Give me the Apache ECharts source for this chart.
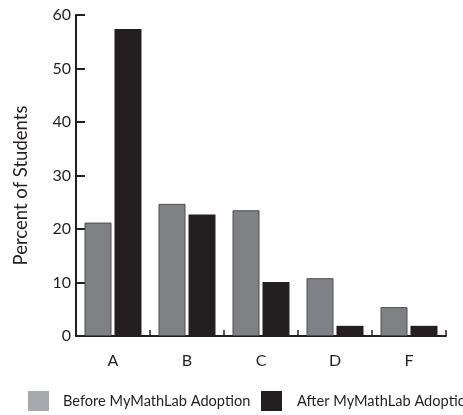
<!DOCTYPE html>
<html>
<head>
<meta charset="utf-8">
<script src="https://cdn.jsdelivr.net/npm/echarts@6/dist/echarts.min.js"></script>
<style>
html,body{margin:0;padding:0;background:#fff;}
#c{width:463px;height:415px;}
</style>
</head>
<body>
<div id="c"></div>
<script>
const categories = ['A', 'B', 'C', 'D', 'F'];
const beforeValues = [21.2, 24.7, 23.5, 10.8, 5.4];
const afterValues = [57.4, 22.7, 10.1, 1.9, 1.9];
const yTicks = [0, 10, 20, 30, 40, 50, 60];
const seriesNames = ['Before MyMathLab Adoption', 'After MyMathLab Adoption'];

const FONT = 'Lato';
const INK = '#231f20';

const chart = echarts.init(document.getElementById('c'), null, {renderer: 'canvas'});
chart.setOption({
  backgroundColor: '#ffffff',
  animation: false,
  textStyle: {fontFamily: FONT, color: INK},
  grid: {left: 76, right: 17, top: 15, bottom: 79, containLabel: false},
  legend: [
    {
      data: [{name: seriesNames[0], itemStyle: {color: '#a7a9ac', borderWidth: 0}}],
      left: 28, top: 391, padding: 0,
      itemWidth: 21, itemHeight: 20,
      icon: 'rect',
      selectedMode: false,
      textStyle: {fontFamily: FONT, fontSize: 14.6, color: INK, padding: [2, 0, 0, 9]}
    },
    {
      data: [{name: seriesNames[1], itemStyle: {color: INK, borderWidth: 0}}],
      left: 261, top: 391, padding: 0,
      itemWidth: 21, itemHeight: 20,
      icon: 'rect',
      selectedMode: false,
      textStyle: {fontFamily: FONT, fontSize: 14.6, color: INK, padding: [2, 0, 0, 10]}
    }
  ],
  xAxis: {
    type: 'category',
    data: categories,
    axisLine: {show: true, lineStyle: {color: INK, width: 2}},
    axisTick: {show: true, inside: true, length: 6, lineStyle: {color: INK, width: 1.5}},
    axisLabel: {fontFamily: FONT, fontSize: 16, color: INK, margin: 17},
    splitLine: {show: false}
  },
  yAxis: {
    type: 'value',
    min: yTicks[0], max: yTicks[yTicks.length - 1], interval: 10,
    name: 'Percent of Students',
    nameLocation: 'middle',
    nameGap: 45,
    nameRotate: 90,
    nameTextStyle: {fontFamily: FONT, fontSize: 18.5, color: INK, padding: [0, 20, 0, 0]},
    axisLine: {show: true, lineStyle: {color: INK, width: 2}},
    axisTick: {show: true, inside: true, length: 9, lineStyle: {color: INK, width: 2}},
    axisLabel: {fontFamily: FONT, fontSize: 16, color: INK, margin: 5},
    splitLine: {show: false}
  },
  series: [
    {
      name: seriesNames[0],
      type: 'bar',
      data: beforeValues,
      barWidth: 27,
      barGap: '11%',
      itemStyle: {color: '#808184', borderColor: '#4d4d4f', borderWidth: 1}
    },
    {
      name: seriesNames[1],
      type: 'bar',
      data: afterValues,
      barWidth: 27,
      itemStyle: {color: INK, borderWidth: 0}
    }
  ]
});
</script>
</body>
</html>
